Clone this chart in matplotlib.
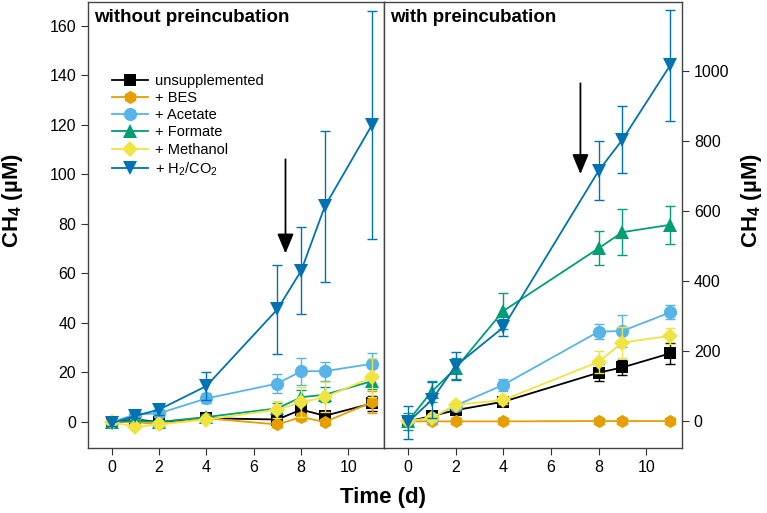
import matplotlib
matplotlib.use("Agg")
import matplotlib.pyplot as plt

plt.rcParams['font.family'] = ['Liberation Sans', 'DejaVu Sans']
plt.rcParams['mathtext.fontset'] = 'custom'
plt.rcParams['mathtext.rm'] = 'Liberation Sans'
plt.rcParams['mathtext.bf'] = 'Liberation Sans:bold'

# ---- data -------------------------------------------------------------
labels = ["unsupplemented", "+ BES", "+ Acetate", "+ Formate", "+ Methanol", "+ H$_2$/CO$_2$"]
colors = ["#000000", "#E69F00", "#56B4E9", "#009E73", "#F0E442", "#0072B2"]
markers = ["s", "h", "o", "^", "D", "v"]
msizes = [8.5, 9.5, 9.5, 10, 8.5, 10]

# without preincubation
days_a = [0, 1, 2, 4, 7, 8, 9, 11]
mean_a = [
    [0, 1, 0, 1.5, 1, 5, 2.5, 7.5],
    [0, 0, -1, 1.5, -1, 2, 0, 8],
    [0, 3, 3.5, 9.5, 15.5, 20.5, 20.5, 23.5],
    [0, 0.5, 0, 2, 5.5, 10, 11, 16.5],
    [0, -2, -1, 1, 5, 8, 10, 18],
    [-0.5, 2.5, 5, 14.5, 45.5, 61, 87, 120],
]
err_a = [
    [1, 1, 1, 1, 1.5, 2, 2, 3],
    [1, 1, 1, 1, 1, 1.5, 1, 4.5],
    [1, 1.5, 1.5, 2, 3.8, 5.5, 3.8, 4.5],
    [1, 1, 1, 1, 2, 3, 3, 3],
    [1, 1, 1, 1, 3.5, 6, 6, 8],
    [1, 1, 2, 5.8, 18, 17.5, 30.5, 46],
]

# with preincubation
days_b = [0, 1, 2, 4, 8, 9, 11]
mean_b = [
    [0, 15, 32, 56, 139, 154, 194],
    [0, 0, 0, 0, 1, 1, 1],
    [0, 10, 45, 104, 256, 258, 311],
    [0, 85, 151, 315, 494, 540, 561],
    [0, 10, 47, 61, 170, 225, 244],
    [-3, 61, 158, 268, 715, 804, 1016],
]
err_b = [
    [5, 8, 8, 10, 25, 22, 30],
    [2, 2, 2, 2, 2, 2, 2],
    [5, 8, 8, 18, 22, 45, 20],
    [25, 30, 30, 52, 48, 66, 55],
    [5, 8, 8, 10, 32, 45, 22],
    [48, 50, 40, 25, 84, 95, 158],
]

# ---- figure -----------------------------------------------------------
fig = plt.figure(figsize=(7.67, 5.13), dpi=100)
W, H = 767, 513
ax1 = fig.add_axes([88 / W, 1 - 448 / H, (384 - 88) / W, (448 - 2) / H])
ax2 = fig.add_axes([384 / W, 1 - 448 / H, (682 - 384) / W, (448 - 2) / H])

def draw(ax, days, means, errs):
    for i in range(len(labels)):
        ax.errorbar(days, means[i], yerr=errs[i], fmt="none", ecolor=colors[i],
                    elinewidth=1, capsize=3.3, capthick=1, zorder=2 + i)
        ax.plot(days, means[i], color=colors[i], lw=1.3, marker=markers[i],
                markersize=msizes[i], markeredgewidth=0,
                label=labels[i], zorder=3 + i)

draw(ax1, days_a, mean_a, err_a)
draw(ax2, days_b, mean_b, err_b)

for ax in (ax1, ax2):
    ax.set_xlim(-1, 11.5)
    ax.set_xticks([0, 2, 4, 6, 8, 10])
    ax.tick_params(labelsize=11.5, length=5, direction="out", color="#333333")
    for s in ax.spines.values():
        s.set_color("#444444")
        s.set_linewidth(1)

ax1.set_ylim(-10.5, 169.5)
ax1.set_yticks(range(0, 161, 20))
ax2.set_ylim(-76, 1197)
ax2.set_yticks(range(0, 1001, 200))
ax2.yaxis.tick_right()

ax1.text(0.02, 0.985, "without preincubation", transform=ax1.transAxes,
         fontsize=13.5, fontweight="bold", va="top", ha="left")
ax2.text(0.02, 0.985, "with preincubation", transform=ax2.transAxes,
         fontsize=13.5, fontweight="bold", va="top", ha="left")

# axis labels placed like the reference (a bit above axes centre)
fig.text(13 / W, 1 - 201 / H, "CH$_\\mathbf{4}$ (µM)", fontsize=16,
         fontweight="bold", rotation=90, ha="center", va="center")
fig.text(752 / W, 1 - 201 / H, "CH$_\\mathbf{4}$ (µM)", fontsize=16,
         fontweight="bold", rotation=90, ha="center", va="center")
fig.text(383 / W, 1 - 497 / H, "Time (d)", fontsize=16, fontweight="bold",
         ha="center", va="center")

# arrows marking the time point
arrow_style = "-|>,head_width=0.5,head_length=1.2"
ax1.annotate("", xy=(7.34, 68), xytext=(7.34, 106),
             arrowprops=dict(arrowstyle=arrow_style, color="black", lw=1.3,
                             shrinkA=0, shrinkB=0))
ax2.annotate("", xy=(7.24, 706), xytext=(7.24, 965),
             arrowprops=dict(arrowstyle=arrow_style, color="black", lw=1.3,
                             shrinkA=0, shrinkB=0))

ax1.legend(loc="upper left", bbox_to_anchor=(0.06, 0.852), frameon=False,
           fontsize=10.5, handlelength=2.5, labelspacing=0.22, handletextpad=0.45,
           borderaxespad=0)

fig.savefig("out.png", dpi=100)
